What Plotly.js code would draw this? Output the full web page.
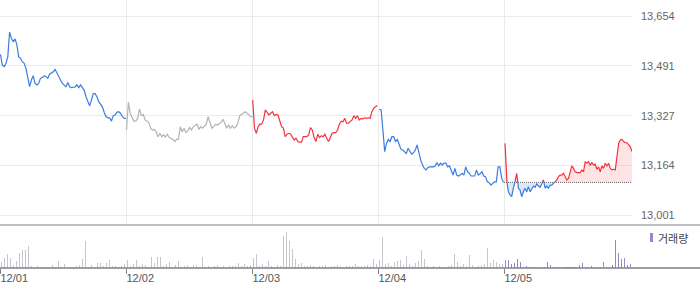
<!DOCTYPE html>
<html>
<head>
<meta charset="utf-8">
<script src="https://cdn.plot.ly/plotly-3.0.1.min.js"></script>
<style>
html,body{margin:0;padding:0;background:#fff;}
#chart{width:700px;height:289px;}
</style>
</head>
<body>
<div id="chart"></div>
<script>
// ---- data ----
const dayLabels = ['12/01', '12/02', '12/03', '12/04', '12/05'];
const yTickVals = [13001, 13164, 13327, 13491, 13654];
const prevClose = 13108;

const priceDay1 = [13528,13493,13488,13499,13520,13601,13581,13570,13579,13559,13520,13515,13504,13499,13482,13450,13422,13444,13458,13433,13428,13433,13450,13452,13458,13455,13450,13463,13466,13471,13479,13466,13455,13444,13433,13428,13422,13436,13422,13419,13419,13421,13428,13419,13428,13420,13411,13389,13373,13359,13378,13399,13399,13389,13373,13364,13356,13338,13324,13320,13320,13309,13327,13329,13338,13340,13335,13324,13318,13318];
const priceDay2 = [13280,13371,13335,13324,13309,13309,13318,13349,13327,13331,13313,13309,13305,13286,13280,13282,13274,13258,13269,13258,13264,13257,13266,13256,13253,13249,13242,13250,13249,13291,13274,13286,13272,13277,13288,13280,13291,13296,13299,13282,13291,13286,13291,13299,13324,13307,13286,13291,13299,13296,13302,13305,13315,13299,13286,13296,13286,13294,13286,13291,13302,13327,13331,13335,13340,13335,13329,13324,13324];
const priceDay3 = [13378,13286,13269,13291,13299,13299,13313,13346,13338,13329,13335,13340,13327,13331,13329,13313,13291,13286,13258,13266,13269,13266,13255,13247,13253,13242,13240,13240,13258,13258,13258,13264,13288,13280,13255,13242,13266,13255,13261,13258,13266,13253,13242,13255,13269,13271,13271,13280,13299,13309,13307,13318,13302,13302,13307,13313,13327,13318,13327,13313,13318,13316,13320,13318,13320,13318,13340,13351,13356,13360];
const priceDay4 = [13348,13346,13280,13209,13236,13249,13242,13258,13258,13242,13249,13231,13217,13214,13209,13203,13220,13209,13201,13205,13214,13231,13203,13181,13165,13154,13149,13157,13159,13159,13159,13162,13173,13162,13171,13165,13171,13171,13159,13162,13149,13132,13154,13132,13129,13132,13138,13132,13159,13143,13138,13129,13129,13129,13149,13132,13136,13143,13129,13127,13110,13107,13099,13105,13110,13110,13159,13159,13121,13108];
const priceDay5 = [13236,13116,13077,13067,13061,13089,13110,13138,13089,13083,13061,13077,13089,13077,13094,13077,13089,13096,13092,13103,13096,13092,13103,13116,13089,13096,13089,13099,13099,13105,13110,13116,13127,13132,13132,13138,13127,13116,13121,13143,13162,13154,13143,13140,13140,13140,13149,13143,13176,13171,13176,13165,13173,13165,13168,13151,13159,13143,13162,13154,13171,13162,13171,13154,13149,13151,13149,13192,13236,13247,13249,13242,13238,13238,13231,13225,13209];

const volDay1 = [6,10,14,10,3,7,15,18,18,22,2,1.5,2,1,1.5,1,1,2.7,1,7.5,1,4,1,1.5,1,2.4,2.7,9.5,27,1.5,2.7,1.5,4.8,5,2,5,8.5,2,2.5,1.5,2.5,4.4];
const volDay2 = [8.5,2,4,8.5,2,4,3.4,1.5,11.5,5,11,11,2,4,5.8,1.5,3.4,7.5,1.5,2,2.7,1.5,3.4,3.4,1.5,11,1.5,2,1.5,2,2.7,1.5,2,1.5,2,2.5,2,5,2,4,2.5,3];
const volDay3 = [10,14.5,2,4,2,7,2,1.5,2.7,2,32,36.5,27,19,9,4,5,2,2,3,2,1.5,2.5,2,3,1.5,2.5,2,3,2,1.5,2.5,2,2,4.3,2,2.5,2,3,2,9,4];
const volDay4 = [8,31.5,4,5,2,6,7,8,3,12,4,2,5,7,18,9,2,1.5,2,1.5,2,1,1.5,2,3,14,6,2,4,2,13.5,3,1.5,2,3,4,20.5,5,8,6,4,4];
const volDay5 = [8,8.5,4,5,9.5,6,1,2,1,1.5,1,1,1.5,1,6,3,1.5,1,1.5,1,1.5,1,1,1.5,1,3,5.5,1.5,1,2,1,1.5,1,6,1,1.5,3,28,15,9,10.5,3,4];

// ---- layout helpers (pixel-based day spans; 126px per day) ----
const PX = 126;
const daySpans = [[0.5,126],[126.5,252.7],[252.7,377.3],[379.3,503.5],[505,632]];
function spread(arr, span){
  const n = arr.length;
  return arr.map((_, i) => (span[0] + (span[1]-span[0]) * i/(n-1)) / PX);
}
const BLUE = '#3b7de0', RED = '#f5323f', GRAY = '#b3b3b3';
const LW = 1.2;

const traces = [];
const prices = [priceDay1, priceDay2, priceDay3, priceDay4];
const dayColors = [BLUE, GRAY, RED, BLUE];
prices.forEach((p, d) => {
  traces.push({x: spread(p, daySpans[d]), y: p, type:'scatter', mode:'lines',
    line:{color: dayColors[d], width: LW}, hoverinfo:'skip', xaxis:'x', yaxis:'y'});
});

// Day 5: split at previous close
const x5 = spread(priceDay5, daySpans[4]);
const X = [], Y = [];
for (let i = 0; i < x5.length; i++){
  if (i > 0){
    const y0 = priceDay5[i-1], y1 = priceDay5[i];
    if ((y0 - prevClose) * (y1 - prevClose) < 0){
      const t = (prevClose - y0) / (y1 - y0);
      X.push(x5[i-1] + t*(x5[i]-x5[i-1])); Y.push(prevClose);
    }
  }
  X.push(x5[i]); Y.push(priceDay5[i]);
}
const baseY = X.map(() => prevClose);
traces.push({x:X, y:baseY, type:'scatter', mode:'lines', line:{width:0, color:'rgba(0,0,0,0)'}, hoverinfo:'skip'});
traces.push({x:X, y:Y.map(v => Math.max(v, prevClose)), type:'scatter', mode:'lines', fill:'tonexty',
  fillcolor:'rgba(255,90,100,0.16)', line:{width:0, color:'rgba(0,0,0,0)'}, hoverinfo:'skip'});
traces.push({x:X, y:baseY, type:'scatter', mode:'lines', line:{width:0, color:'rgba(0,0,0,0)'}, hoverinfo:'skip'});
traces.push({x:X, y:Y.map(v => Math.min(v, prevClose)), type:'scatter', mode:'lines', fill:'tonexty',
  fillcolor:'rgba(70,130,220,0.18)', line:{width:0, color:'rgba(0,0,0,0)'}, hoverinfo:'skip'});
// dotted baseline
traces.push({x:[4.0, 632/PX], y:[prevClose, prevClose], type:'scatter', mode:'lines',
  line:{color:'#666', width:1, dash:'1px,1px'}, hoverinfo:'skip'});
traces.push({x:X, y:Y.map(v => v >= prevClose ? v : null), type:'scatter', mode:'lines',
  line:{color:RED, width:LW}, connectgaps:false, hoverinfo:'skip'});
traces.push({x:X, y:Y.map(v => v <= prevClose ? v : null), type:'scatter', mode:'lines',
  line:{color:BLUE, width:LW}, connectgaps:false, hoverinfo:'skip'});

// volume bars
const vols = [volDay1, volDay2, volDay3, volDay4, volDay5];
vols.forEach((v, d) => {
  const step = (d === 4 ? 128 : 126) / v.length;
  const xs = v.map((_, i) => d + (i + 0.5) * step / PX);
  traces.push({x: xs, y: v, type:'bar', width: 1.1/PX,
    marker:{color: d === 4 ? '#9a84cc' : '#c4c7cb', line:{width:0}},
    xaxis:'x2', yaxis:'y2', hoverinfo:'skip'});
});

const H = 268; // plot area height in px
const priceBottom = (H - 225) / H;
const volTop = (H - 226) / H;
const yPxToVal = (y) => 13001 + (215 - y) * (163.25 / 49.75);

const layout = {
  width: 700, height: 289,
  margin: {l:0, r:68, t:0, b:21, pad:0},
  paper_bgcolor:'#fff', plot_bgcolor:'#fff',
  showlegend:false,
  bargap:0,
  font:{family:'"Liberation Sans", Arial, sans-serif', size:11, color:'#555'},
  xaxis:{domain:[0,1], range:[0, 632/PX], anchor:'y', tickvals:[0,1,2,3,4], showticklabels:false,
    showgrid:true, gridcolor:'#ebebeb', gridwidth:1, zeroline:false, showline:false, ticks:'', fixedrange:true},
  yaxis:{domain:[priceBottom, 1], range:[yPxToVal(225), yPxToVal(0)], side:'right', anchor:'x',
    tickvals:yTickVals, tickformat:',.0f', showgrid:true, gridcolor:'#ebebeb', gridwidth:1,
    zeroline:false, showline:false, ticks:'', ticklabelstandoff:8,
    tickfont:{size:11, color:'#666'}},
  xaxis2:{domain:[0,1], range:[0, 632/PX], anchor:'y2', matches:'x', tickvals:[0,1,2,3,4], ticktext:dayLabels,
    showgrid:false, zeroline:false, showline:false, ticks:'outside', ticklen:5, tickwidth:1, tickcolor:'#7d8289',
    ticklabelposition:'outside right', tickfont:{size:11, color:'#555'}},
  yaxis2:{domain:[0, volTop], range:[0, 42], anchor:'x2', showticklabels:false, showgrid:false,
    zeroline:false, showline:false, ticks:''},
  shapes:[
    {type:'line', xref:'paper', yref:'paper', x0:0, x1:700/632, y0:priceBottom, y1:priceBottom,
      line:{color:'#7d8289', width:1}},
    {type:'line', xref:'paper', yref:'paper', x0:0, x1:700/632, y0:0, y1:0,
      line:{color:'#7d8289', width:1.5}},
    {type:'rect', xref:'paper', yref:'paper', x0:650/632, x1:653/632, y0:(H-242)/H, y1:(H-233)/H,
      line:{width:0}, fillcolor:'#9a84cc'}
  ],
  annotations:[
    {xref:'paper', yref:'paper', x:656/632, y:(H-237.5)/H, xanchor:'left', yanchor:'middle',
      text:'거래량', showarrow:false, font:{size:11, color:'#444', family:'"Noto Sans CJK KR", sans-serif'}}
  ]
};

Plotly.newPlot('chart', traces, layout, {staticPlot:true, displayModeBar:false});
</script>
</body>
</html>
